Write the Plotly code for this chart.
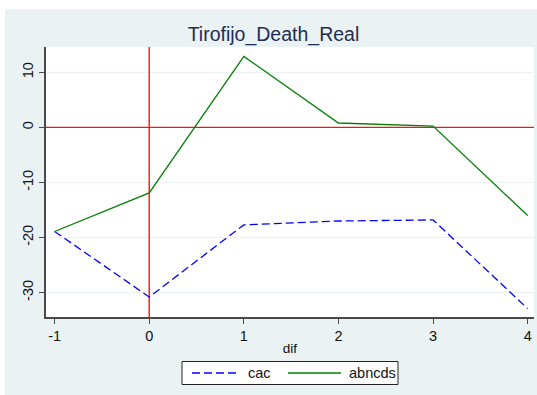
import plotly.graph_objects as go

# Event-time axis and the two series
dif = [-1, 0, 1, 2, 3, 4]
cac = [-18.9, -30.8, -17.7, -17.0, -16.8, -32.9]
abncds = [-18.9, -11.9, 12.9, 0.8, 0.25, -16.0]

x_ticks = [-1, 0, 1, 2, 3, 4]
y_ticks = [-30, -20, -10, 0, 10]
x_range = [-1.091, 4.067]
y_range = [-34.43, 14.6]

W, H = 537, 395
ML, MR, MT, MB = 46, 3, 47, 78
pw, ph = W - ML - MR, H - MT - MB


def px_x(p):
    return (p - ML) / pw


def px_y(p):
    return (H - MB - p) / ph


BLUE = "#0000FF"
GREEN = "#007F00"
RED = "#FF1010"
BLUE_DASH = "8px,4px"

fig = go.Figure()
# Reference lines at zero, drawn first so the series sit on top
fig.add_trace(go.Scatter(x=x_range, y=[0, 0], mode="lines", hoverinfo="skip",
                         line=dict(color=RED, width=1.4), showlegend=False))
fig.add_trace(go.Scatter(x=[0, 0], y=y_range, mode="lines", hoverinfo="skip",
                         line=dict(color=RED, width=1.4), showlegend=False))

fig.add_trace(go.Scatter(x=dif, y=cac, mode="lines", name="cac",
                         line=dict(color=BLUE, width=1.3, dash=BLUE_DASH)))
fig.add_trace(go.Scatter(x=dif, y=abncds, mode="lines", name="abncds",
                         line=dict(color=GREEN, width=1.3)))

# White margin strips around the tinted graph region
for x0, x1, y0, y1 in [(0, W, 0, 9), (0, 5, 0, H)]:
    fig.add_shape(type="rect", xref="paper", yref="paper",
                  x0=px_x(x0), x1=px_x(x1), y0=px_y(y1), y1=px_y(y0),
                  fillcolor="white", line=dict(width=0), layer="below")

# Boxed legend below the axis title
fig.add_shape(type="rect", xref="paper", yref="paper",
              x0=px_x(182), x1=px_x(398), y0=px_y(384.5), y1=px_y(361.5),
              fillcolor="white", line=dict(color="#222", width=1))
ly = px_y(373)
legend_items = [("cac", BLUE, BLUE_DASH, 192, 238, 246.5),
                ("abncds", GREEN, "solid", 288, 341, 348)]
for label, color, dash, lx0, lx1, tx in legend_items:
    fig.add_shape(type="line", xref="paper", yref="paper",
                  x0=px_x(lx0), x1=px_x(lx1), y0=ly, y1=ly,
                  line=dict(color=color, width=1.3, dash=dash))
    fig.add_annotation(text=label, xref="paper", yref="paper",
                       x=px_x(tx), y=ly, xanchor="left", yanchor="middle",
                       showarrow=False, xshift=-1,
                       font=dict(size=14.5, color="#111"))

fig.update_layout(
    width=W, height=H,
    margin=dict(l=ML, r=MR, t=MT, b=MB),
    paper_bgcolor="#EAF2F3",
    plot_bgcolor="white",
    font=dict(family="Liberation Sans, Arial, sans-serif", size=14, color="#111"),
    title=dict(text="Tirofijo_Death_Real", x=px_x(294.5), xanchor="center",
               y=1 - 34 / H, yanchor="middle",
               font=dict(size=19.5, color="#1E2D53")),
    showlegend=False,
    xaxis=dict(range=x_range, tickvals=x_ticks,
               ticktext=[str(v) for v in x_ticks], showgrid=False,
               zeroline=False, showline=True, linecolor="#4a4a4a", linewidth=1.5,
               ticks="outside", ticklen=5, tickcolor="#4a4a4a",
               tickfont=dict(size=14.5),
               title=dict(text="dif", standoff=0, font=dict(size=13.5))),
    yaxis=dict(range=y_range, tickvals=y_ticks,
               ticktext=[str(v) for v in y_ticks], showgrid=True,
               gridcolor="#EAF2F3", gridwidth=1, zeroline=False,
               showline=True, linecolor="#4a4a4a", linewidth=1.5,
               ticks="outside", ticklen=5, tickcolor="#4a4a4a",
               tickfont=dict(size=14.5), tickangle=-90),
)

fig.write_html("out.html")
